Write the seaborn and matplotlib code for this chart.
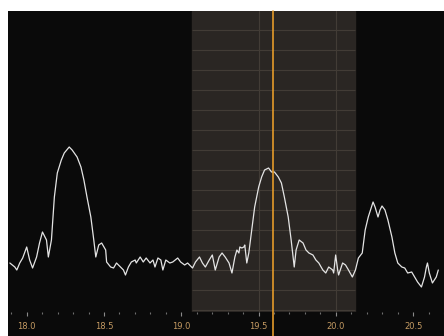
import numpy as np
import pandas as pd
import seaborn as sns
import matplotlib
matplotlib.use("Agg")
import matplotlib.pyplot as plt
from matplotlib.patches import Rectangle

# spectrum trace (MHz, dB)
freq = [17.891, 17.923, 17.936, 17.955, 17.974, 18.000, 18.019, 18.038, 18.064, 18.083,
        18.102, 18.128, 18.140, 18.160, 18.179, 18.198, 18.224, 18.243, 18.275, 18.294,
        18.326, 18.351, 18.370, 18.390, 18.415, 18.434, 18.447, 18.466, 18.485, 18.511,
        18.517, 18.543, 18.562, 18.581, 18.607, 18.626, 18.639, 18.658, 18.677, 18.702,
        18.709, 18.734, 18.754, 18.773, 18.798, 18.817, 18.830, 18.849, 18.868, 18.881,
        18.900, 18.926, 18.945, 18.977, 18.996, 19.022, 19.041, 19.073, 19.092, 19.118,
        19.137, 19.156, 19.181, 19.201, 19.220, 19.245, 19.264, 19.284, 19.309, 19.328,
        19.347, 19.360, 19.373, 19.379, 19.392, 19.405, 19.411, 19.424, 19.437, 19.456,
        19.475, 19.501, 19.520, 19.539, 19.565, 19.584, 19.603, 19.628, 19.648, 19.667,
        19.692, 19.711, 19.731, 19.743, 19.763, 19.788, 19.807, 19.826, 19.852, 19.871,
        19.890, 19.916, 19.935, 19.954, 19.980, 19.986, 19.999, 20.012, 20.018, 20.044,
        20.063, 20.082, 20.107, 20.127, 20.146, 20.171, 20.190, 20.210, 20.235, 20.241,
        20.254, 20.273, 20.286, 20.299, 20.318, 20.337, 20.363, 20.382, 20.401, 20.427,
        20.446, 20.465, 20.491, 20.510, 20.529, 20.554, 20.574, 20.586, 20.593, 20.605,
        20.625, 20.650, 20.663]
level = [-96.5, -98.5, -100, -96.5, -94, -88.5, -95, -99, -93.5, -86.5,
         -81, -85, -93.5, -85, -63.5, -51.5, -45, -41.5, -38.5, -40,
         -43.5, -48.5, -55, -63.5, -73.5, -85, -93.5, -87.5, -86.5, -90,
         -96, -98.5, -99, -96.5, -98.5, -100, -102.5, -98.5, -96, -95,
         -96.5, -93.5, -96, -94, -96.5, -95, -98.5, -94, -95, -100,
         -95, -96.5, -96, -94, -96, -97.5, -96.5, -99, -96, -93.5,
         -96.5, -98.5, -95, -92.5, -100, -93.5, -91.5, -93.5, -96.5, -101.5,
         -93.5, -90, -91.5, -88.5, -89, -88.5, -87.5, -96.5, -91.5, -80,
         -68.5, -58.5, -53.5, -50, -49, -51, -51, -53.5, -56.5, -63.5,
         -73.5, -85, -98.5, -90, -85, -86.5, -90, -91.5, -92.5, -95,
         -96.5, -100, -101.5, -98.5, -100, -101.5, -92.5, -100, -102.5, -96.5,
         -97.5, -100, -103.5, -100, -94, -91.5, -80, -73.5, -67.5, -66,
         -68.5, -73.5, -70, -68, -70, -75, -83.5, -91.5, -96.5, -98.5,
         -99, -101.5, -101, -103.5, -106, -108.5, -103.5, -98.5, -96.5, -101.5,
         -106.5, -103.5, -100]

tick_pos = [18.0, 18.5, 19.0, 19.5, 20.0, 20.5]
tick_labels = ["18.0", "18.5", "19.0", "19.5", "20.0", "20.5"]
filter_lo, filter_hi = 19.07, 20.127
tuned = 19.596
grid_db = list(range(-120, 30, 10))

df = pd.DataFrame({"freq": freq, "level": level})

sns.set_style("dark")
fig = plt.figure(figsize=(4.44, 3.36), dpi=100, facecolor="white")
# black strip behind the frequency scale
fig.patches.append(Rectangle((8 / 444, 0), 1, 325 / 336, transform=fig.transFigure,
                             facecolor="#0a0a0a", edgecolor="none", zorder=-10))
ax = fig.add_axes([8 / 444, 24 / 336, 436 / 444, 301 / 336])
ax.set_facecolor("#0a0a0a")
ax.set_xlim(17.879, 20.663)
ax.set_ylim(-121, 29.5)
ax.grid(False)

# filter passband
ax.axvspan(filter_lo, filter_hi, color="#2a2623", zorder=0)
ax.hlines(grid_db, filter_lo, filter_hi, colors="#423c36", lw=0.8, zorder=1)
for x in [19.5, 20.0]:
    ax.axvline(x, color="#423c36", lw=0.8, zorder=1)

sns.lineplot(data=df, x="freq", y="level", ax=ax, color="#e4e4e4", lw=0.9,
             estimator=None, sort=False, zorder=3)

ax.axvline(tuned, ymin=-0.09, ymax=1, color="#e39a2a", lw=1.2, zorder=4, clip_on=False)

ax.set_xticks(tick_pos)
ax.set_xticklabels(tick_labels)
ax.set_xticks(np.arange(17.9, 20.7, 0.1), minor=True)
ax.tick_params(axis="x", which="both", bottom=True)
ax.tick_params(axis="x", which="major", direction="out", length=3, width=0.8,
               color="#8a8a8a", pad=4, labelsize=6, labelcolor="#c49a62")
ax.tick_params(axis="x", which="minor", direction="out", length=1.2, width=0.8,
               color="#6f6f6f")
ax.set_yticks([])
ax.set_xlabel("")
ax.set_ylabel("")
for s in ax.spines.values():
    s.set_visible(False)

fig.savefig("out.png", dpi=100, facecolor="white")
